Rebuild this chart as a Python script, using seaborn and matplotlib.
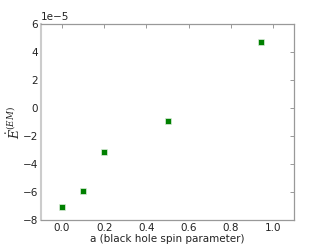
import matplotlib
matplotlib.use("Agg")
import matplotlib.pyplot as plt
import seaborn as sns
import pandas as pd

spin = [0.0, 0.1, 0.2, 0.5, 0.94]
edot_em = [-7.05e-5, -5.92e-5, -3.15e-5, -0.92e-5, 4.72e-5]
xticks = [0.0, 0.2, 0.4, 0.6, 0.8, 1.0]
yticks = [-8e-5, -6e-5, -4e-5, -2e-5, 0, 2e-5, 4e-5, 6e-5]

sns.set_style("white")
plt.rcParams['font.family'] = ['DejaVu Sans']
plt.rcParams['mathtext.fontset'] = 'dejavuserif'

df = pd.DataFrame({"a": spin, "E": edot_em})
fig = plt.figure(figsize=(3.27, 2.45), dpi=100)
ax = fig.add_axes([0.125, 0.102, 0.775, 0.8])
sns.scatterplot(data=df, x="a", y="E", marker="s", color="green", s=22,
                edgecolor="#ddeedd", linewidth=0.5, ax=ax, zorder=3)
ax.set_xlim(-0.1, 1.1)
ax.set_ylim(-8e-5, 6e-5)
ax.set_xticks(xticks)
ax.set_yticks(yticks)
ax.tick_params(direction="in", top=True, right=True, length=3, width=0.6,
               colors="#888888", labelcolor="#222222", labelsize=7.5, pad=2)
for s in ax.spines.values():
    s.set_color("#999999")
    s.set_linewidth(0.9)
ax.spines['left'].set_color("#cccccc")
ax.spines['left'].set_linewidth(1.5)
ax.yaxis.get_offset_text().set_fontsize(7.5)
ax.set_xlabel("a (black hole spin parameter)", fontsize=7.5, labelpad=1, color="#222222")
ax.set_ylabel(r"$\dot{E}^{(EM)}$", fontsize=9, labelpad=0, color="#222222")
fig.savefig("out.png", dpi=100)
